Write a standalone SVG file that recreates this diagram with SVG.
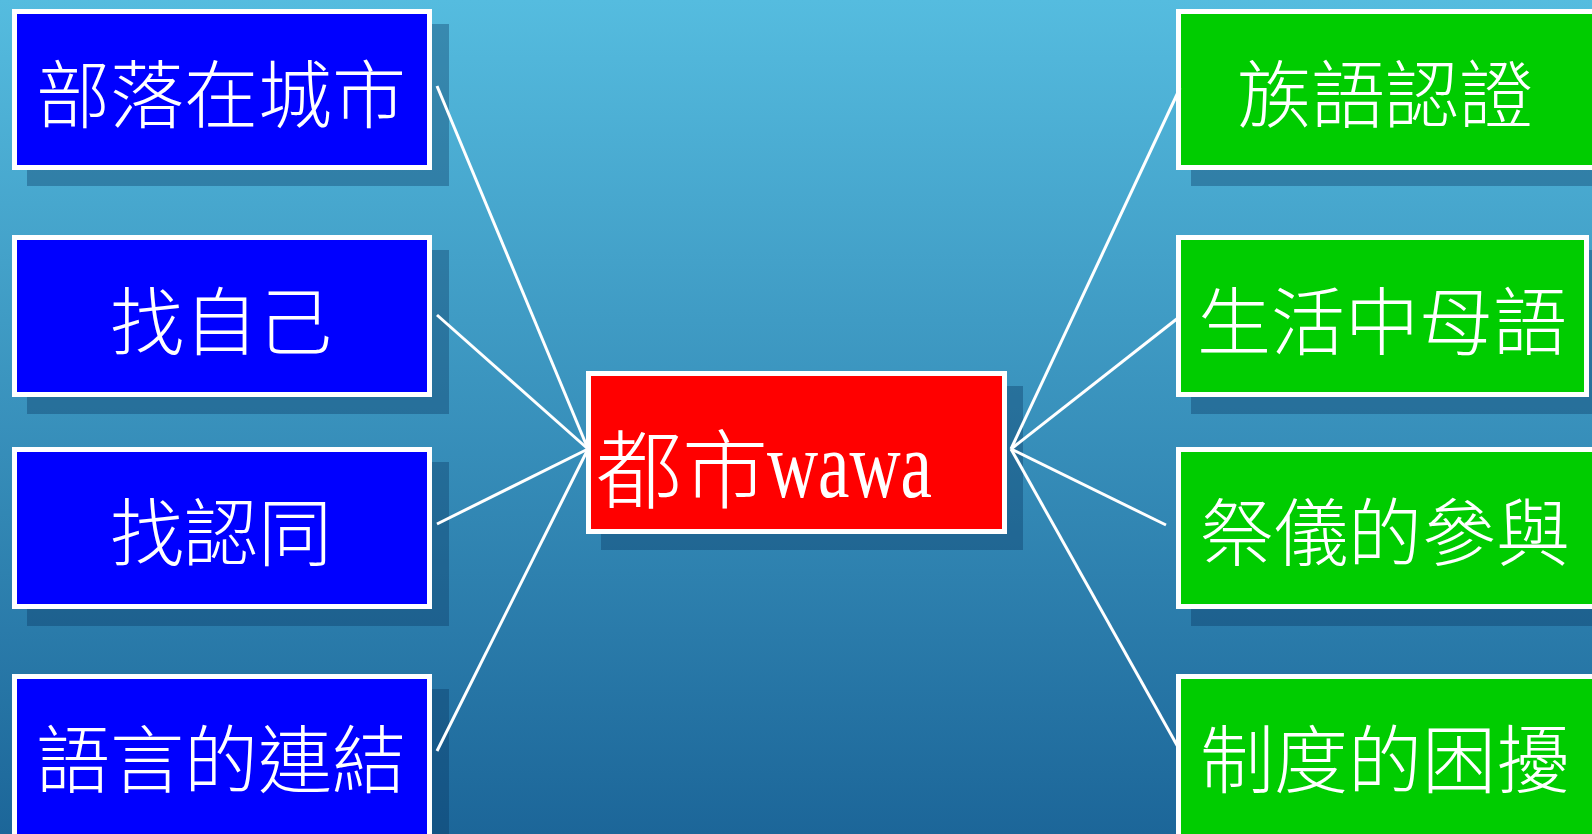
<svg xmlns="http://www.w3.org/2000/svg" width="1592" height="834" viewBox="0 0 1592 834">
<defs>
<linearGradient id="bg" x1="0" y1="0" x2="0" y2="1">
<stop offset="0" stop-color="#55bcdf"/>
<stop offset="1" stop-color="#1c6699"/>
</linearGradient>
</defs>
<style>
.sh{fill:#06305c;fill-opacity:0.35}
.box{stroke:#ffffff;stroke-width:5}
.blue{fill:#0000ff}
.red{fill:#ff0000}
.green{fill:#00cc00}
.t{fill:#ffffff;font-family:"Noto Sans CJK TC","Noto Sans CJK SC",sans-serif;font-weight:300;font-size:74px;text-anchor:middle;dominant-baseline:central}
.c{fill:#ffffff;font-family:"Noto Sans CJK TC","Noto Sans CJK SC",sans-serif;font-weight:300;font-size:86px;dominant-baseline:central}
.lat{fill:#ffffff;font-family:"Liberation Serif","Noto Sans CJK TC",serif;font-size:96px}
.ln{stroke:#ffffff;stroke-width:3;fill:none}
</style>
<rect x="0" y="0" width="1592" height="834" fill="url(#bg)"/>
<g id="n1"><rect class="sh" x="27" y="24" width="422" height="162"/><rect class="box blue" x="14.5" y="11.5" width="415" height="156"/><text class="t" x="221" y="89">部落在城市</text></g>
<g id="n2"><rect class="sh" x="27" y="250" width="422" height="164"/><rect class="box blue" x="14.5" y="237.5" width="415" height="157"/><text class="t" x="221" y="316">找自己</text></g>
<g id="n3"><rect class="sh" x="27" y="462" width="422" height="164"/><rect class="box blue" x="14.5" y="449.5" width="415" height="157"/><text class="t" x="221" y="527">找認同</text></g>
<g id="n4"><rect class="sh" x="27" y="689" width="422" height="164"/><rect class="box blue" x="14.5" y="676.5" width="415" height="160"/><text class="t" x="221" y="754">語言的連結</text></g>
<g id="center"><rect class="sh" x="601" y="386" width="422" height="164"/><rect class="box red" x="588.5" y="373.5" width="416" height="158"/><text class="c" x="596" y="464">都市</text><text class="lat" x="767" y="497" textLength="165" lengthAdjust="spacingAndGlyphs">wawa</text></g>
<g id="r1"><rect class="sh" x="1191" y="24" width="422" height="162"/><rect class="box green" x="1178.5" y="11.5" width="420" height="156"/><text class="t" x="1385" y="89">族語認證</text></g>
<g id="r2"><rect class="sh" x="1191" y="250" width="422" height="164"/><rect class="box green" x="1178.5" y="237.5" width="408" height="157"/><text class="t" x="1382" y="316">生活中母語</text></g>
<g id="r3"><rect class="sh" x="1191" y="462" width="422" height="164"/><rect class="box green" x="1178.5" y="449.5" width="420" height="157"/><text class="t" x="1385" y="527">祭儀的參與</text></g>
<g id="r4"><rect class="sh" x="1191" y="689" width="422" height="164"/><rect class="box green" x="1178.5" y="676.5" width="420" height="160"/><text class="t" x="1385" y="754">制度的困擾</text></g>
<g id="connectors">
<line class="ln" x1="437" y1="86" x2="588" y2="449"/>
<line class="ln" x1="437" y1="315" x2="588" y2="449"/>
<line class="ln" x1="437" y1="524" x2="588" y2="449"/>
<line class="ln" x1="437" y1="751" x2="588" y2="449"/>
<line class="ln" x1="1011" y1="449" x2="1180" y2="88"/>
<line class="ln" x1="1011" y1="449" x2="1178" y2="318"/>
<line class="ln" x1="1011" y1="449" x2="1166" y2="525"/>
<line class="ln" x1="1011" y1="449" x2="1178" y2="747"/>
</g>
</svg>
